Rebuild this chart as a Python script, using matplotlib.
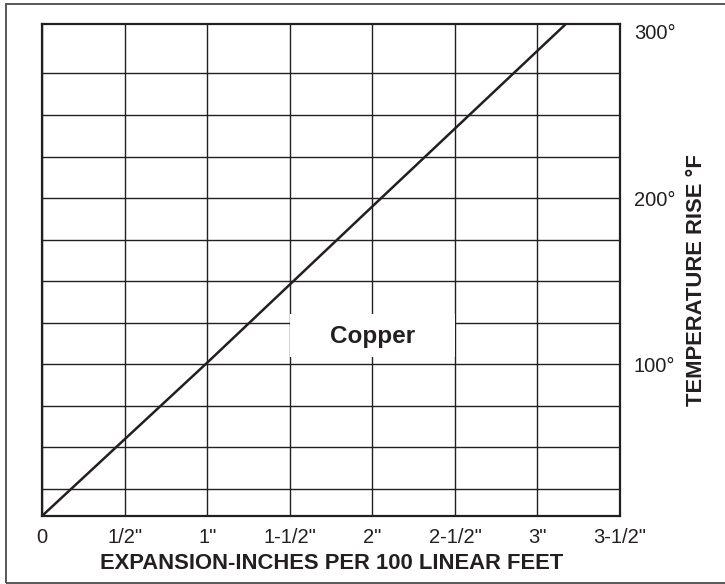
import matplotlib
matplotlib.use('Agg')
import matplotlib.pyplot as plt
from matplotlib.patches import Rectangle

plt.rcParams['font.family'] = ['Liberation Sans', 'DejaVu Sans']

INK = '#231f20'

# copper expansion curve (inches per 100 ft vs. temperature rise in °F)
expansion_in = [0.0, 1.0, 2.0, 3.17]
temp_rise_f = [8.8, 101.0, 195.0, 304.6]

x_ticks = [0, 0.5, 1.0, 1.5, 2.0, 2.5, 3.0, 3.5]
x_tick_labels = ['0', '1/2"', '1"', '1-1/2"', '2"', '2-1/2"', '3"', '3-1/2"']
y_ticks = [100, 200, 300]
y_tick_labels = ['100°', '200°', '300°']
y_grid = [25, 50, 75, 100, 125, 150, 175, 200, 225, 250, 275]

fig = plt.figure(figsize=(7.25, 5.84), dpi=100)

# outer frame around the whole figure
fig.patches.append(Rectangle((6.3 / 725, 1.5 / 584), 1.2, (579.7 - 1.5) / 584,
                             transform=fig.transFigure, fill=False,
                             edgecolor='#4a4a4a', linewidth=1.3))

ax = fig.add_axes([42.3 / 725, 68.3 / 584, (620 - 42.3) / 725, (515.7 - 24.3) / 584])

ax.plot(expansion_in, temp_rise_f, color=INK, linewidth=1.8, zorder=4,
        solid_capstyle='butt')

ax.set_xlim(0, 3.5)
ax.set_ylim(8.8, 304.6)

ax.set_xticks(x_ticks)
ax.set_xticklabels(x_tick_labels)
ax.yaxis.tick_right()
ax.set_yticks(y_ticks)
ax.set_yticklabels(y_tick_labels)
ax.set_yticks(y_grid, minor=True)
ax.yaxis.remove_overlapping_locs = False
ax.tick_params(axis='both', which='both', length=0, labelsize=14.5, colors=INK)
ax.tick_params(axis='x', pad=9)
ax.tick_params(axis='y', pad=10)

ax.grid(axis='x', which='major', color=INK, linewidth=1.0, zorder=1)
ax.grid(axis='y', which='minor', color=INK, linewidth=1.0, zorder=1)
ax.grid(axis='y', which='major', visible=False)
ax.set_axisbelow(True)

for s in ax.spines.values():
    s.set_color(INK)
    s.set_linewidth(1.6)

# blank panel behind the material name
ax.add_patch(Rectangle((1.5, 104.5), 1.0, 25.5, facecolor='white',
                       edgecolor='none', zorder=2))
ax.text(2.0, 116.8, 'Copper', ha='center', va='center', fontsize=17.5,
        fontweight='bold', color=INK, zorder=3)

ax.set_xlabel('EXPANSION-INCHES PER 100 LINEAR FEET', fontsize=15.8,
              fontweight='bold', color=INK, labelpad=4)
ax.yaxis.set_label_position('right')
ax.set_ylabel('TEMPERATURE RISE °F', fontsize=15.8, fontweight='bold',
              color=INK)
ax.yaxis.set_label_coords(1.115, 0.48)

fig.savefig('out.png', dpi=100)
